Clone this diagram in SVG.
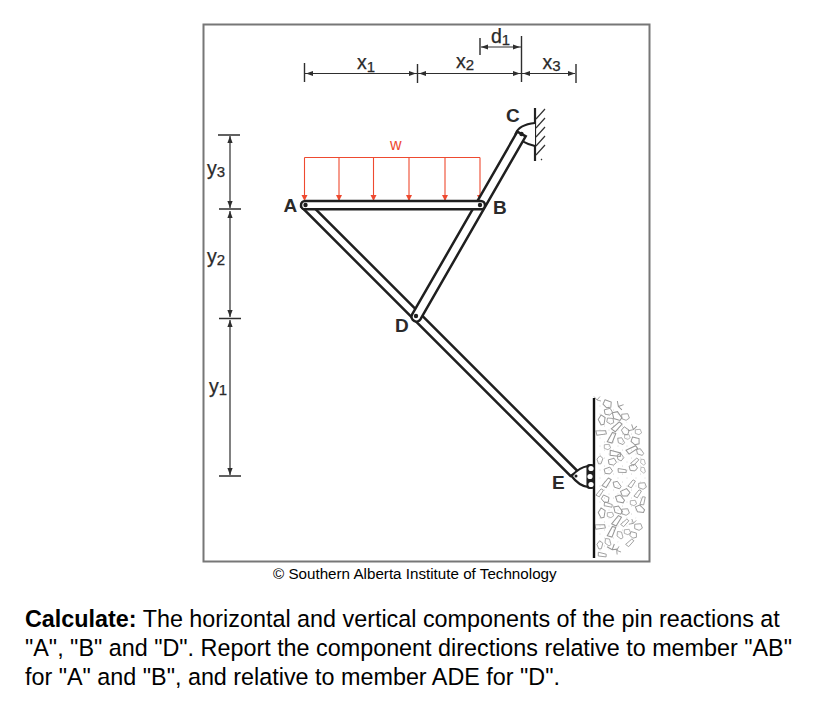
<svg xmlns="http://www.w3.org/2000/svg" width="826" height="701" viewBox="0 0 826 701">
<style>
.dim{stroke:#2e2e2e;stroke-width:1.2;fill:none}
.tick{stroke:#2e2e2e;stroke-width:1.4;fill:none}
.ah{fill:#2e2e2e;stroke:none}
.mem{fill:#fff;stroke:#1f1f1f;stroke-width:2.500}
.lab{font-family:"Liberation Sans",Arial,sans-serif;fill:#2a2a2a;font-size:19.5px;stroke:#2a2a2a;stroke-width:.25}
.sub{font-size:15px}
.big{font-weight:bold;font-size:19px;stroke:none}
.t{font-family:"Liberation Sans",Arial,sans-serif;fill:#000;font-size:23.35px}
.red{stroke:#ee4a30;stroke-width:1.1;fill:none}
.rh{fill:#ee4a30;stroke:none}
.hatch{stroke:#333;stroke-width:1.2;fill:none}
.rub{fill:none;stroke:#969696;stroke-width:.8}
</style>
<defs>
<path id="al" class="ah" d="M0 0l7-2.600v5.200z"/>
<path id="ar" class="ah" d="M0 0l-7-2.600v5.200z"/>
<path id="au" class="ah" d="M0 0l-2.600 7h5.200z"/>
<path id="ad" class="ah" d="M0 0l-2.600-7h5.200z"/>
<path id="rd" class="rh" d="M0 0l-3-6h6z"/>
<path id="r1" class="rub" d="M-3-2.500L2.500-3 4 1 1 3-3 1.500z"/>
<path id="r2" class="rub" d="M-2.500-3.500L1.500-3 3 2.500 1 4-3 1z"/>
<path id="r3" class="rub" d="M-4.500-1L3.500-2.500 4.500 0-3 2.500z"/>
<path id="r4" class="rub" d="M-4-2.500L-1 1 3 2M-1 1L2-2.500"/>
<circle id="pin" r="2.200" fill="#1f1f1f"/>
<pattern id="stip" width="9" height="8" patternUnits="userSpaceOnUse">
<circle cx="1.500" cy="2" r=".45" fill="#aaa"/><circle cx="6" cy="6" r=".45" fill="#aaa"/>
</pattern>
</defs>
<rect id="frame" x="203.500" y="24.500" width="446" height="537" fill="#fff" stroke="#777" stroke-width="2"/>

<g id="dimensions">
<path class="dim" d="M305 73.500H417M418 73.500H521M522 73.500H575M481 47H521M230 136V208M230 211V317M230 320V475"/>
<path class="tick" d="M304.500 63V82M417.500 64V83M521.500 36V82M576 64V83M480 38V55M218 135H240M219 209H241M219 318.500H241M219 476H241"/>
<use href="#al" x="306" y="73.500"/><use href="#ar" x="416" y="73.500"/><use href="#al" x="419" y="73.500"/><use href="#ar" x="520" y="73.500"/><use href="#al" x="523" y="73.500"/><use href="#ar" x="575" y="73.500"/><use href="#al" x="481" y="47"/><use href="#ar" x="520" y="47"/>
<use href="#au" x="230" y="136"/><use href="#ad" x="230" y="208"/><use href="#au" x="230" y="211"/><use href="#ad" x="230" y="317"/><use href="#au" x="230" y="320"/><use href="#ad" x="230" y="475"/>
<text class="lab" x="357" y="69">x<tspan class="sub" dy="2.500">1</tspan></text>
<text class="lab" x="456" y="67.500">x<tspan class="sub" dy="2.500">2</tspan></text>
<text class="lab" x="542.500" y="68.500">x<tspan class="sub" dy="2.500">3</tspan></text>
<text class="lab" x="491" y="42.500">d<tspan class="sub" dy="2.500">1</tspan></text>
<text class="lab" x="207" y="175">y<tspan class="sub" dy="2">3</tspan></text>
<text class="lab" x="207" y="263">y<tspan class="sub" dy="2">2</tspan></text>
<text class="lab" x="209" y="393">y<tspan class="sub" dy="2">1</tspan></text>
</g>

<g id="load">
<path class="red" d="M304.500 157.500H480M304.500 157.500V200M339 157.500V200M373.500 157.500V200M409 157.500V200M445 157.500V200M480 157.500V200"/>
<use href="#rd" x="304.500" y="201"/><use href="#rd" x="339" y="201"/><use href="#rd" x="373.500" y="201"/><use href="#rd" x="409" y="201"/><use href="#rd" x="445" y="201"/><use href="#rd" x="480" y="201"/>
<text x="390" y="150" font-family="Liberation Sans, Arial, sans-serif" font-size="16" fill="#ee4a30">w</text>
</g>

<g id="wall-c">
<path d="M535 108V161" stroke="#222" stroke-width="2.200" fill="none"/>
<path class="hatch" d="M536 119L545 109M536 128L545 118M536 137L545 127M536 146L545 136M536 155L545 145M541 160L542 159"/>
</g>

<g id="wall-e">
<g id="rubble">
<path d="M596 398C628 412 646 445 646 477C646 510 628 542 596 558Z" fill="url(#stip)"/>
<use href="#r4" transform="translate(598 399)"/><use href="#r1" transform="translate(607 404) rotate(25) scale(1.200)"/><use href="#r1" transform="translate(608 412) rotate(-10) scale(1.100)"/><use href="#r4" transform="translate(620 406) rotate(30) scale(1.200)"/><use href="#r2" transform="translate(602 420) rotate(25) scale(1.200)"/><use href="#r1" transform="translate(610 421) rotate(10)"/><use href="#r2" transform="translate(617 416) rotate(-20) scale(1.300)"/><use href="#r1" transform="translate(625 417) scale(1.100)"/>
<use href="#r3" transform="translate(617 427) rotate(-30) scale(1.300)"/><use href="#r1" transform="translate(625 431) rotate(40) scale(1.100)"/><use href="#r4" transform="translate(633 428) rotate(-60) scale(1.200)"/><use href="#r1" transform="translate(638 432) scale(.9)"/><use href="#r3" transform="translate(601 433) rotate(10) scale(1.200)"/><use href="#r3" transform="translate(612 438) rotate(-50) scale(1.300)"/><use href="#r2" transform="translate(621 441) rotate(-15)"/><use href="#r1" transform="translate(627 437) scale(.8)"/><use href="#r1" transform="translate(635 441) rotate(20) scale(1.200)"/>
<use href="#r1" transform="translate(607 447) scale(.9)"/><use href="#r3" transform="translate(615 454) rotate(25) scale(1.300)"/><use href="#r3" transform="translate(632 450) rotate(-15) scale(1.300)"/><use href="#r2" transform="translate(640 452) rotate(-20)"/><use href="#r1" transform="translate(620 457) rotate(60)"/><use href="#r2" transform="translate(600 460) rotate(35)"/><use href="#r1" transform="translate(612 462) rotate(-10) scale(1.100)"/><use href="#r3" transform="translate(635 462) rotate(-30)"/><use href="#r2" transform="translate(643 462) scale(.8)"/>
<use href="#r1" transform="translate(633 468) rotate(-15) scale(1.100)"/><use href="#r3" transform="translate(622 471) rotate(20)"/><use href="#r1" transform="translate(608 471) rotate(-15) scale(1.100)"/><use href="#r2" transform="translate(643 470) scale(.8)"/>
<use href="#r3" transform="translate(607 483) rotate(-40) scale(1.200)"/><use href="#r2" transform="translate(617 485) rotate(-20) scale(1.100)"/><use href="#r3" transform="translate(632 484) rotate(-40)"/><use href="#r1" transform="translate(642 486) scale(1.100)"/><use href="#r3" transform="translate(600 493) rotate(-40)"/><use href="#r1" transform="translate(605 499) rotate(30) scale(1.100)"/><use href="#r1" transform="translate(625 493) rotate(-20) scale(1.200)"/><use href="#r2" transform="translate(620 499) rotate(-25) scale(1.200)"/><use href="#r3" transform="translate(638 494) rotate(-40)"/>
<use href="#r3" transform="translate(608 505) rotate(30)"/><use href="#r1" transform="translate(633 503) scale(.9)"/><use href="#r3" transform="translate(643 501) rotate(-60)"/><use href="#r2" transform="translate(602 513) rotate(25) scale(1.200)"/><use href="#r1" transform="translate(610 515) scale(.9)"/><use href="#r2" transform="translate(618 510) rotate(-20) scale(1.200)"/><use href="#r1" transform="translate(625 512) scale(1.100)"/><use href="#r2" transform="translate(640 509) rotate(-30) scale(1.200)"/>
<use href="#r3" transform="translate(617 521) rotate(-40) scale(1.300)"/><use href="#r3" transform="translate(625 523) rotate(-30)"/><use href="#r4" transform="translate(633 522) rotate(-60)"/><use href="#r1" transform="translate(638 527) scale(1.100)"/><use href="#r3" transform="translate(600 527) rotate(10) scale(1.200)"/><use href="#r3" transform="translate(612 532) rotate(-50) scale(1.300)"/><use href="#r2" transform="translate(620 535)"/><use href="#r1" transform="translate(627 532) scale(.9)"/><use href="#r1" transform="translate(633 535) rotate(20)"/>
<use href="#r2" transform="translate(608 542)"/><use href="#r3" transform="translate(630 543) rotate(-30)"/><use href="#r4" transform="translate(613 548) rotate(-20) scale(1.300)"/><use href="#r4" transform="translate(618 551) rotate(70)"/><use href="#r2" transform="translate(600 545) rotate(30)"/><use href="#r3" transform="translate(602 555) rotate(25)"/>
</g>
<path d="M594 398V558" stroke="#111" stroke-width="2.400" fill="none"/>
</g>

<g id="member-ade">
<path class="mem" d="M301.500 207L309 202.500 578 471.500 570.500 476Z"/>
</g>
<g id="node-C">
<path d="M535 123C525 124 518 127 515.500 134 519 140 526 144 535 146" fill="#fff" stroke="#1f1f1f" stroke-width="2.200"/>
</g>
<g id="member-bcd">
<path class="mem" d="M412 314.700L517.300 131.700 525.700 136.300 420.400 319.300A4.800 4.800 0 0 1 412 314.700Z"/>
</g>
<g id="member-ab">
<rect class="mem" x="301" y="201" width="184" height="8.300" rx="4.150"/>
</g>
<g id="node-A"><use href="#pin" x="305.500" y="205"/><text class="lab big" x="283.500" y="212">A</text></g>
<g id="node-B"><use href="#pin" x="480" y="205"/><text class="lab big" x="493" y="213.500">B</text></g>
<g id="label-C"><use href="#pin" x="521.500" y="134"/><text class="lab big" x="506" y="122">C</text></g>
<g id="node-D"><use href="#pin" x="416" y="316"/><text class="lab big" x="395" y="331.500">D</text></g>
<g id="node-E">
<path d="M588 466C581 467 576 471 571.500 476 576 482 581 486 588 487Z" fill="#fff" stroke="#1f1f1f" stroke-width="2.200"/>
<rect x="586.500" y="464" width="8" height="25" rx="3" fill="#1f1f1f"/>
<circle cx="591" cy="468.500" r="2.600" fill="#fff"/><circle cx="590" cy="476.500" r="2.600" fill="#fff"/><circle cx="591" cy="484.500" r="2.600" fill="#fff"/>
<circle cx="576" cy="476" r="1.500" fill="#1f1f1f"/>
<text class="lab big" x="552" y="488.500">E</text></g>

<text id="credit" x="273" y="578.500" font-family="Liberation Sans, Arial, sans-serif" font-size="15.200" fill="#000">© Southern Alberta Institute of Technology</text>
<g id="question">
<text class="t" x="25" y="627"><tspan font-weight="bold">Calculate:</tspan> The horizontal and vertical components of the pin reactions at</text>
<text class="t" x="25" y="656">"A", "B" and "D". Report the component directions relative to member "AB"</text>
<text class="t" x="25" y="685">for "A" and "B", and relative to member ADE for "D".</text>
</g>
</svg>
